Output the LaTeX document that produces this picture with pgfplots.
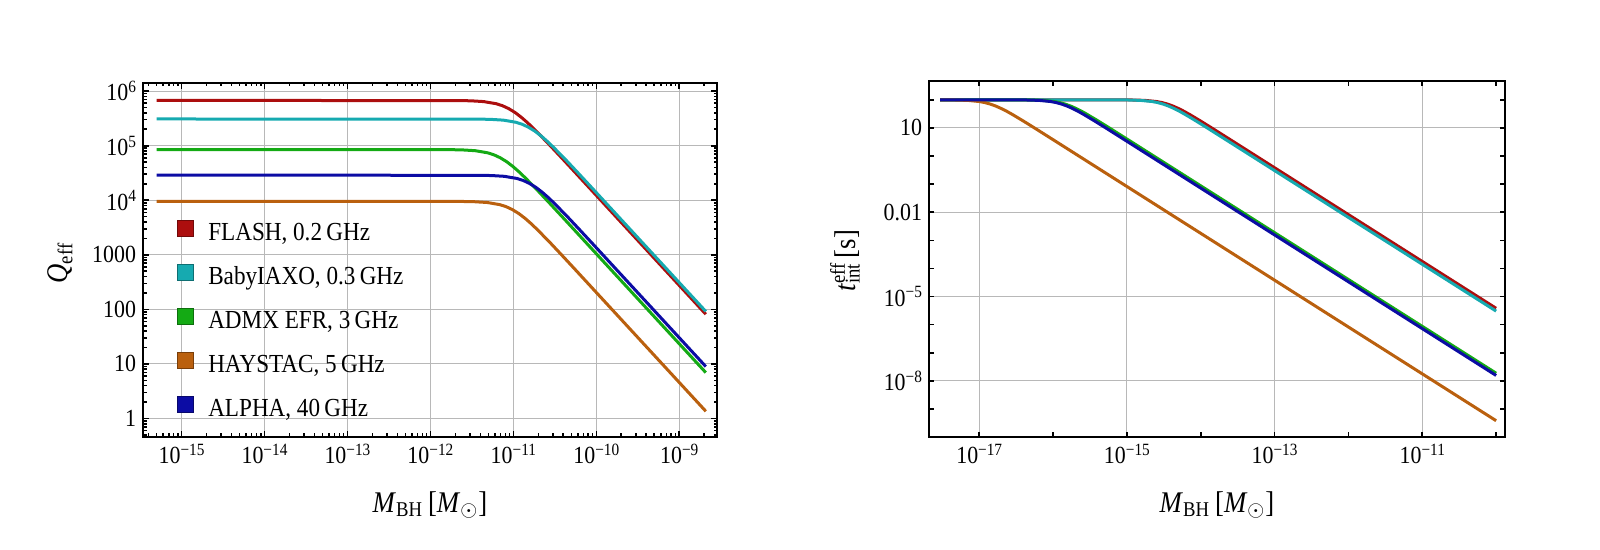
\documentclass[border=0pt]{standalone}
\usepackage{pgfplots}
\pgfplotsset{compat=1.18}
\usepackage{fontspec}
\setmainfont{Liberation Serif}[FakeStretch=0.89]
\definecolor{cR}{RGB}{172,14,14}
\definecolor{cC}{RGB}{22,170,176}
\definecolor{cG}{RGB}{20,170,20}
\definecolor{cO}{RGB}{186,96,14}
\definecolor{cB}{RGB}{12,12,164}
\newcommand{\tp}[1]{10\raisebox{4.2bp}{\fontsize{8.6bp}{10bp}\selectfont #1}}
\newcommand{\fT}{\fontsize{12.3bp}{14bp}\selectfont}
\newcommand{\fL}{\fontsize{13bp}{15bp}\selectfont}
\newcommand{\fA}{\fontsize{15bp}{17bp}\selectfont}
\pgfplotsset{
  mystyle/.style={
    scale only axis, anchor=south west,
    axis line style={line width=1bp},
    every tick/.style={black, line width=0.8bp},
    grid=major, grid style={line width=0.45bp, black!28},
    tick label style={font=\fT},
    label style={font=\fA},
  },
  every axis plot/.append style={line width=1.5bp},
  sqlegend/.style={legend image code/.code={\draw[line width=0.6bp, fill=#1, draw=#1!65!black] (0bp,-1bp) rectangle (8bp,7bp);}},
}
\begin{document}
\begin{tikzpicture}
% ---------------- left panel ----------------
\begin{axis}[mystyle,
  at={(71.5bp,56.5bp)}, width=287bp, height=177bp,
  xmin=-15.465, xmax=-8.545, ymin=-0.34, ymax=6.15,
  xtick={-15,-14,-13,-12,-11,-10,-9},
  xticklabels={\tp{−15},\tp{−14},\tp{−13},\tp{−12},\tp{−11},\tp{−10},\tp{−9}},
  ytick={0,1,2,3,4,5,6},
  yticklabels={1,10,100,1000,\tp{4},\tp{5},\tp{6}},
  minor xtick={-15.398,-15.301,-15.222,-15.155,-15.097,-15.046,
    -14.699,-14.523,-14.398,-14.301,-14.222,-14.155,-14.097,-14.046,
    -13.699,-13.523,-13.398,-13.301,-13.222,-13.155,-13.097,-13.046,
    -12.699,-12.523,-12.398,-12.301,-12.222,-12.155,-12.097,-12.046,
    -11.699,-11.523,-11.398,-11.301,-11.222,-11.155,-11.097,-11.046,
    -10.699,-10.523,-10.398,-10.301,-10.222,-10.155,-10.097,-10.046,
    -9.699,-9.523,-9.398,-9.301,-9.222,-9.155,-9.097,-9.046,-8.699},
  minor ytick={-0.301,-0.222,-0.155,-0.097,-0.046,
    0.301,0.477,0.602,0.699,0.778,0.845,0.903,0.954,
    1.301,1.477,1.602,1.699,1.778,1.845,1.903,1.954,
    2.301,2.477,2.602,2.699,2.778,2.845,2.903,2.954,
    3.301,3.477,3.602,3.699,3.778,3.845,3.903,3.954,
    4.301,4.477,4.602,4.699,4.778,4.845,4.903,4.954,
    5.301,5.477,5.602,5.699,5.778,5.845,5.903,5.954},
  major tick length=3bp, minor tick length=1.75bp,
  xlabel={\textit{M}\textsubscript{BH}\,[\textit{M}\textsubscript{$\odot$}]},
  xlabel style={at={(axis description cs:0.5,-0.2119)}, anchor=base},
  ylabel={\textit{Q}\textsubscript{eff}},
  ylabel style={at={(axis description cs:-0.1446,0.4915)}, anchor=center},
  legend style={draw=none, fill=none, font=\fL, at={(axis description cs:0.0587,0.614)},
    anchor=north west, inner sep=0pt, row sep=8.65bp, column sep=7bp,
    nodes={inner sep=0pt, text height=9bp, text depth=3bp}},
  legend cell align=left,
]
\addplot[cR, sqlegend=cR] coordinates {(-15.30,5.83) (-11.661,5.828) (-11.510,5.823) (-11.358,5.809) (-11.207,5.770) (-11.131,5.733) (-11.055,5.679) (-10.979,5.608) (-10.903,5.520) (-10.828,5.420) (-10.752,5.309) (-10.600,5.073) (-10.449,4.828) (-10.297,4.579) (-10.146,4.330) (-9.843,3.830) (-8.68,1.911)};
\addlegendentry{FLASH, 0.2\,GHz}
\addplot[cC, sqlegend=cC] coordinates {(-15.30,5.49) (-11.424,5.488) (-11.273,5.483) (-11.121,5.469) (-10.970,5.430) (-10.894,5.393) (-10.818,5.339) (-10.742,5.268) (-10.666,5.180) (-10.591,5.080) (-10.515,4.969) (-10.363,4.733) (-10.212,4.488) (-10.060,4.239) (-9.909,3.990) (-9.606,3.490) (-8.68,1.962)};
\addlegendentry{BabyIAXO, 0.3\,GHz}
\addplot[cG, sqlegend=cG] coordinates {(-15.30,4.93) (-11.764,4.928) (-11.613,4.923) (-11.461,4.909) (-11.310,4.870) (-11.234,4.833) (-11.158,4.779) (-11.082,4.708) (-11.006,4.620) (-10.931,4.520) (-10.855,4.409) (-10.703,4.173) (-10.552,3.928) (-10.400,3.679) (-10.249,3.430) (-9.946,2.930) (-8.68,0.841)};
\addlegendentry{ADMX EFR, 3\,GHz}
\addplot[cO, sqlegend=cO] coordinates {(-15.30,3.98) (-11.618,3.978) (-11.467,3.973) (-11.315,3.959) (-11.164,3.920) (-11.088,3.883) (-11.012,3.829) (-10.936,3.758) (-10.860,3.670) (-10.785,3.570) (-10.709,3.459) (-10.557,3.223) (-10.406,2.978) (-10.254,2.729) (-10.103,2.480) (-9.800,1.980) (-8.68,0.132)};
\addlegendentry{HAYSTAC, 5\,GHz}
\addplot[cB, sqlegend=cB] coordinates {(-15.30,4.46) (-11.412,4.458) (-11.261,4.453) (-11.109,4.439) (-10.958,4.400) (-10.882,4.363) (-10.806,4.309) (-10.730,4.238) (-10.654,4.150) (-10.579,4.050) (-10.503,3.939) (-10.351,3.703) (-10.200,3.458) (-10.048,3.209) (-9.897,2.960) (-9.594,2.460) (-8.68,0.952)};
\addlegendentry{ALPHA, 40\,GHz}
\end{axis}
% ---------------- right panel ----------------
\begin{axis}[mystyle,
  at={(464.5bp,56.5bp)}, width=288bp, height=178bp,
  xmin=-17.68, xmax=-9.88, ymin=-10.0, ymax=2.67,
  xtick={-17,-15,-13,-11},
  xticklabels={\tp{−17},\tp{−15},\tp{−13},\tp{−11}},
  minor xtick={-16,-14,-12,-10},
  ytick={-8,-5,-2,1},
  yticklabels={\tp{−8},\tp{−5},0.01,10},
  minor ytick={-9,-7,-6,-4,-3,-1,0,2},
  major tick length=2.5bp, minor tick length=2.5bp,
  xlabel={\textit{M}\textsubscript{BH}\,[\textit{M}\textsubscript{$\odot$}]},
  xlabel style={at={(axis description cs:0.5,-0.2107)}, anchor=base},
  ylabel={\textit{t}\makebox[0pt][l]{\textsuperscript{eff}}\textsubscript{int}\,[s]},
  ylabel style={at={(axis description cs:-0.1458,0.4944)}, anchor=center},
]
\addplot[cR] coordinates {(-17.53,2.0) (-15.051,1.998) (-14.901,1.993) (-14.751,1.979) (-14.601,1.940) (-14.526,1.903) (-14.451,1.849) (-14.376,1.778) (-14.301,1.690) (-14.226,1.590) (-14.151,1.479) (-14.001,1.243) (-13.851,0.998) (-13.701,0.749) (-13.551,0.500) (-13.251,0.000) (-10.0,-5.42)};
\addplot[cC] coordinates {(-17.53,2.0) (-15.111,1.998) (-14.961,1.993) (-14.811,1.979) (-14.661,1.940) (-14.586,1.903) (-14.511,1.849) (-14.436,1.778) (-14.361,1.690) (-14.286,1.590) (-14.211,1.479) (-14.061,1.243) (-13.911,0.998) (-13.761,0.749) (-13.611,0.500) (-13.311,0.000) (-10.0,-5.52)};
\addplot[cG] coordinates {(-17.53,2.0) (-16.437,1.998) (-16.287,1.993) (-16.137,1.979) (-15.987,1.940) (-15.912,1.903) (-15.837,1.849) (-15.762,1.778) (-15.687,1.690) (-15.612,1.590) (-15.537,1.479) (-15.387,1.243) (-15.237,0.998) (-15.087,0.749) (-14.937,0.500) (-14.637,0.000) (-10.0,-7.73)};
\addplot[cO] coordinates {(-17.53,2.0) (-17.451,1.998) (-17.301,1.993) (-17.151,1.979) (-17.001,1.940) (-16.926,1.903) (-16.851,1.849) (-16.776,1.778) (-16.701,1.690) (-16.626,1.590) (-16.551,1.479) (-16.401,1.243) (-16.251,0.998) (-16.101,0.749) (-15.951,0.500) (-15.651,0.000) (-10.0,-9.42)};
\addplot[cB] coordinates {(-17.53,2.0) (-16.485,1.998) (-16.335,1.993) (-16.185,1.979) (-16.035,1.940) (-15.960,1.903) (-15.885,1.849) (-15.810,1.778) (-15.735,1.690) (-15.660,1.590) (-15.585,1.479) (-15.435,1.243) (-15.285,0.998) (-15.135,0.749) (-14.985,0.500) (-14.685,0.000) (-10.0,-7.81)};
\end{axis}
\pgfresetboundingbox
\path[use as bounding box] (0,0) rectangle (800bp,275bp);
\end{tikzpicture}
\end{document}
